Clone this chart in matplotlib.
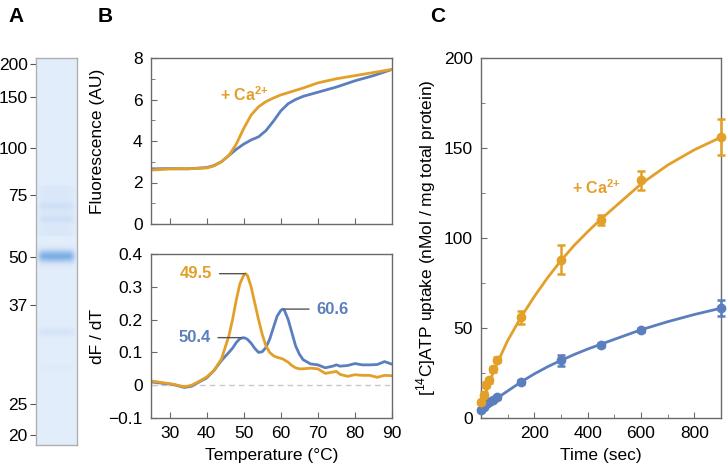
import numpy as np
import matplotlib
matplotlib.use("Agg")
import matplotlib.pyplot as plt
from matplotlib.ticker import MultipleLocator

plt.rcParams['font.family'] = ['Liberation Sans', 'DejaVu Sans']
plt.rcParams['mathtext.fontset'] = 'custom'
plt.rcParams['mathtext.rm'] = 'Liberation Sans'
plt.rcParams['mathtext.bf'] = 'Liberation Sans:bold'

ORANGE = '#E3A029'
BLUE = '#5B7FBE'
SPINE = '#6a6a6a'

# ---------------- Panel A: gel ----------------
marker_labels = ['200', '150', '100', '75', '50', '37', '25', '20']
marker_pos = [1.6, 10.1, 23.3, 35.4, 51.4, 63.8, 89.4, 97.4]   # migration (% of lane)
band_pos = [51.2, 38.3, 41.6, 70.8, 80.0]
band_strength = [0.85, 0.10, 0.10, 0.12, 0.04]
band_width = [1.1, 0.7, 0.7, 0.8, 0.6]
smear_range = [33.0, 46.0]
smear_strength = 0.07

# ---------------- Panel B: thermal shift ----------------
temp_fl = [25, 30, 35, 40, 42, 44, 46, 48, 50, 52, 54, 56, 58, 60, 62, 64, 66, 70, 75, 80, 85, 90]
fl_ca = [2.6, 2.65, 2.66, 2.7, 2.8, 3.0, 3.3, 3.85, 4.6, 5.25, 5.65, 5.9, 6.07, 6.22, 6.33, 6.44, 6.55, 6.8, 7.0, 7.15, 7.3, 7.45]
fl_apo = [2.66, 2.67, 2.66, 2.72, 2.82, 3.0, 3.3, 3.6, 3.85, 4.05, 4.2, 4.5, 4.95, 5.45, 5.8, 6.0, 6.15, 6.35, 6.6, 6.9, 7.15, 7.45]

temp_d = [25, 28, 31, 34, 36, 38, 40, 42, 44, 46, 47, 48, 49, 50, 50.5, 51, 52, 53, 54, 55, 56, 57, 58, 59, 60,
          60.5, 61, 62, 63, 64, 65, 66, 68, 70, 72, 74, 75, 76, 78, 80, 82, 84, 86, 88, 90]
d_ca = [0.013, 0.008, 0.003, -0.005, 0.0, 0.012, 0.025, 0.045, 0.08, 0.15, 0.2, 0.26, 0.31, 0.335, 0.34, 0.335,
        0.3, 0.25, 0.2, 0.155, 0.12, 0.1, 0.09, 0.085, 0.082, 0.08, 0.077, 0.07, 0.06, 0.053, 0.05, 0.05,
        0.052, 0.05, 0.036, 0.04, 0.042, 0.033, 0.027, 0.032, 0.03, 0.03, 0.024, 0.03, 0.029]
d_apo = [0.01, 0.006, 0.002, -0.007, -0.003, 0.01, 0.022, 0.045, 0.075, 0.1, 0.113, 0.13, 0.142, 0.145, 0.143,
         0.14, 0.128, 0.112, 0.1, 0.102, 0.115, 0.14, 0.175, 0.21, 0.228, 0.232, 0.228, 0.2, 0.16, 0.12, 0.095,
         0.078, 0.065, 0.062, 0.053, 0.058, 0.062, 0.058, 0.06, 0.066, 0.062, 0.062, 0.063, 0.072, 0.064]

peak_labels = ['49.5', '50.4', '60.6']
peak_T = [50.4, 49.5, 60.8]
peak_y = [0.34, 0.145, 0.232]

# ---------------- Panel C: ATP uptake ----------------
time_pts = [0, 10, 20, 30, 45, 60, 150, 300, 450, 600, 900]
uptake_ca = [8.7, 13, 18.5, 21, 27, 32.4, 56, 88, 110, 132, 156]
err_ca = [1.0, 1.2, 1.5, 1.5, 1.5, 1.5, 3.5, 8, 3, 5.5, 10]
uptake_apo = [4.5, 6.2, 7.6, 8.8, 10.2, 11.5, 20, 32, 40.5, 49, 61]
err_apo = [0.8, 0.8, 0.8, 0.8, 0.8, 0.8, 1.0, 3.0, 1.0, 1.0, 4.5]

time_fit = [0, 25, 50, 100, 150, 200, 250, 300, 350, 400, 450, 500, 600, 700, 800, 900]
fit_ca = [8.5, 17, 27, 43, 56, 67.5, 78, 87.5, 96, 103.5, 110.5, 117, 130, 140.5, 149, 156]
fit_apo = [4.5, 7.5, 10, 15, 20, 24.5, 28.5, 32, 35.3, 38.3, 41, 43.7, 49, 53.5, 57.5, 61]

fig = plt.figure(figsize=(7.27, 4.70), dpi=100)
W, H = 727, 470

def ax_px(x0, y0, x1, y1):
    return fig.add_axes([x0 / W, 1 - y1 / H, (x1 - x0) / W, (y1 - y0) / H])

def style(ax):
    for s in ax.spines.values():
        s.set_color(SPINE)
        s.set_linewidth(1.0)
    ax.tick_params(which='both', direction='in', color=SPINE, labelsize=12.5, pad=6)
    ax.tick_params(which='major', length=4)
    ax.tick_params(which='minor', length=3)

# ---- A ----
axA = ax_px(36, 58, 77, 445)
yy = np.linspace(0, 100, 800)
prof = np.zeros_like(yy)
for p, s, w in zip(band_pos, band_strength, band_width):
    prof += s * np.exp(-0.5 * ((yy - p) / w) ** 2)
smear = (yy > smear_range[0]) & (yy < smear_range[1])
prof += smear_strength * smear
prof = np.clip(prof, 0, 1)
xx = np.linspace(0, 1, 60)
edge = np.exp(-((xx - 0.5) / 0.45) ** 8)
img_i = prof[:, None] * edge[None, :]
bg = np.array([0.89, 0.93, 0.985])
band_col = np.array([0.42, 0.64, 0.88])
img = bg[None, None, :] * (1 - img_i[..., None]) + band_col[None, None, :] * img_i[..., None]
axA.imshow(img, aspect='auto', extent=[0, 1, 100, 0], interpolation='bilinear')
axA.set_xlim(0, 1)
axA.set_ylim(100, 0)
axA.set_xticks([])
axA.set_yticks(marker_pos)
axA.set_yticklabels(marker_labels)
for s in axA.spines.values():
    s.set_color('#b0b0b0')
    s.set_linewidth(1.0)
axA.tick_params(axis='y', direction='out', length=4, color='#555555', labelsize=12.5, pad=2)
fig.text(8 / W, 1 - 17 / H, 'A', fontsize=15, fontweight='bold', va='center')

# ---- B top ----
axB1 = ax_px(151, 58, 392, 224)
style(axB1)
axB1.plot(temp_fl, fl_apo, color=BLUE, lw=2)
axB1.plot(temp_fl, fl_ca, color=ORANGE, lw=2)
axB1.set_xlim(25, 90)
axB1.set_ylim(0, 8)
axB1.set_yticks([0, 2, 4, 6, 8])
axB1.yaxis.set_minor_locator(MultipleLocator(1))
axB1.set_xticks([30, 40, 50, 60, 70, 80])
axB1.set_xticklabels([])
axB1.set_ylabel('Fluorescence (AU)', fontsize=12.5)
axB1.yaxis.set_label_coords(-0.19, 0.5)
axB1.text(43.5, 6.25, r'+ Ca$^{\mathbf{2{+}}}$', color=ORANGE, fontsize=11.5, fontweight='bold', va='center')
fig.text(98 / W, 1 - 17 / H, 'B', fontsize=15, fontweight='bold', va='center')

# ---- B bottom ----
axB2 = ax_px(151, 254, 392, 418)
style(axB2)
axB2.axhline(0, color='#c8c8c8', lw=1, ls=(0, (4, 3)))
axB2.plot(temp_d, d_apo, color=BLUE, lw=2)
axB2.plot(temp_d, d_ca, color=ORANGE, lw=2)
axB2.set_xlim(25, 90)
axB2.set_ylim(-0.1, 0.4)
axB2.set_yticks([-0.1, 0, 0.1, 0.2, 0.3, 0.4])
axB2.set_yticklabels(['\u22120.1', '0', '0.1', '0.2', '0.3', '0.4'])
axB2.set_xticks([30, 40, 50, 60, 70, 80, 90])
axB2.set_ylabel('dF / dT', fontsize=12.5)
axB2.yaxis.set_label_coords(-0.19, 0.5)
axB2.set_xlabel('Temperature (\u00b0C)', fontsize=12.5, labelpad=5)

axB2.annotate(peak_labels[0], xy=(peak_T[0], peak_y[0]), xytext=(41.6, peak_y[0]),
              color=ORANGE, fontsize=12, fontweight='bold', ha='right', va='center',
              arrowprops=dict(arrowstyle='-', color='#555555', lw=1, shrinkA=3, shrinkB=0))
axB2.annotate(peak_labels[1], xy=(peak_T[1], peak_y[1]), xytext=(41.2, peak_y[1]),
              color=BLUE, fontsize=12, fontweight='bold', ha='right', va='center',
              arrowprops=dict(arrowstyle='-', color='#555555', lw=1, shrinkA=3, shrinkB=0))
axB2.annotate(peak_labels[2], xy=(peak_T[2], peak_y[2]), xytext=(69.5, peak_y[2]),
              color=BLUE, fontsize=12, fontweight='bold', ha='left', va='center',
              arrowprops=dict(arrowstyle='-', color='#555555', lw=1, shrinkA=3, shrinkB=0))

# ---- C ----
axC = ax_px(481, 58, 721, 418)
style(axC)
axC.plot(time_fit, fit_apo, color=BLUE, lw=2)
axC.plot(time_fit, fit_ca, color=ORANGE, lw=2)
axC.errorbar(time_pts, uptake_apo, yerr=err_apo, fmt='o', color=BLUE, ms=6, capsize=3,
             elinewidth=1.8, capthick=1.8, clip_on=False, zorder=3)
axC.errorbar(time_pts, uptake_ca, yerr=err_ca, fmt='o', color=ORANGE, ms=6, capsize=3,
             elinewidth=1.8, capthick=1.8, clip_on=False, zorder=3)
axC.set_xlim(0, 900)
axC.set_ylim(0, 200)
axC.set_xticks([200, 400, 600, 800])
axC.xaxis.set_minor_locator(MultipleLocator(100))
axC.set_yticks([0, 50, 100, 150, 200])
axC.yaxis.set_minor_locator(MultipleLocator(25))
axC.set_xlabel('Time (sec)', fontsize=12.5, labelpad=5)
axC.set_ylabel('[$^{14}$C]ATP uptake (nMol / mg total protein)', fontsize=12.5, labelpad=4)
axC.text(340, 128, r'+ Ca$^{\mathbf{2{+}}}$', color=ORANGE, fontsize=11.5, fontweight='bold', va='center')
fig.text(430 / W, 1 - 17 / H, 'C', fontsize=15, fontweight='bold', va='center')

fig.savefig('out.png', dpi=100)
